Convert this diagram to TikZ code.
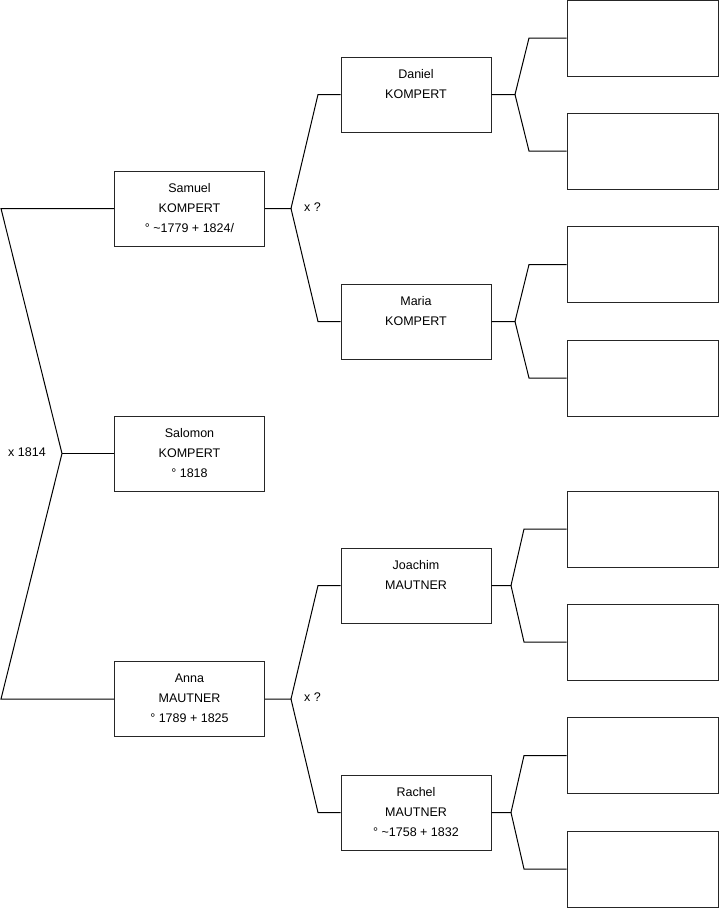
\documentclass[tikz,border=0pt]{standalone}
\usepackage{fontspec}
\setmainfont{Liberation Sans}
\begin{document}
\begin{tikzpicture}[x=1pt,y=-1pt,
  box/.style={draw=black!85,line width=1pt,fill=white,minimum width=150pt,minimum height=75pt,inner sep=0pt},
  emptybox/.style={draw=black!85,line width=1pt,fill=white,minimum width=151pt,minimum height=76pt,inner sep=0pt},
  txt/.style={anchor=north,inner sep=0pt,align=center,font=\fontsize{12.5}{20}\selectfont},
  lbl/.style={anchor=west,inner sep=0pt,font=\fontsize{12.5}{15}\selectfont},
  conn/.style={line width=1pt,black}]
\useasboundingbox (0,0) rectangle (719,908);
% generation 1
\node[box] (samuel) at (189.5,208.5) {};
\node[box] (salomon) at (189.5,453.5) {};
\node[box] (anna) at (189.5,699) {};
% generation 2
\node[box] (daniel) at (416,94.5) {};
\node[box] (maria) at (416,321.5) {};
\node[box] (joachim) at (416,585.5) {};
\node[box] (rachel) at (416,812.5) {};
% generation 3
\node[emptybox] (r1) at (642.5,38) {};
\node[emptybox] (r2) at (642.5,151) {};
\node[emptybox] (r3) at (642.5,264.5) {};
\node[emptybox] (r4) at (642.5,378) {};
\node[emptybox] (r5) at (642.5,529) {};
\node[emptybox] (r6) at (642.5,642) {};
\node[emptybox] (r7) at (642.5,755.5) {};
\node[emptybox] (r8) at (642.5,869) {};
% texts
\node[txt] (samuelT) at ([yshift=-12.5pt]samuel.north) {Samuel\\KOMPERT\\° \textasciitilde1779 + 1824/};
\node[txt] (salomonT) at ([yshift=-12.5pt]salomon.north) {Salomon\\KOMPERT\\° 1818};
\node[txt] (annaT) at ([yshift=-12.5pt]anna.north) {Anna\\MAUTNER\\° 1789 + 1825};
\node[txt] (danielT) at ([yshift=-12.5pt]daniel.north) {Daniel\\KOMPERT};
\node[txt] (mariaT) at ([yshift=-12.5pt]maria.north) {Maria\\KOMPERT};
\node[txt] (joachimT) at ([yshift=-12.5pt]joachim.north) {Joachim\\MAUTNER};
\node[txt] (rachelT) at ([yshift=-12.5pt]rachel.north) {Rachel\\MAUTNER\\° \textasciitilde1758 + 1832};
% coordinates
\coordinate (c1) at (1,208.5);
\coordinate (f1) at (62,453.5);
\coordinate (c2) at (1,699);
\coordinate (fs) at (291,208.5);
\coordinate (fa) at (291,699);
\coordinate (fd) at (515,94.5);
\coordinate (fm) at (515,321.5);
\coordinate (fj) at (511,585.5);
\coordinate (fr) at (511,812.5);
% labels
\node[lbl] (m1) at (8,452) {x 1814};
\node[lbl] (m2) at (304,207) {x ?};
\node[lbl] (m3) at (304,697) {x ?};
% connectors
\draw[conn] (samuel.west) -- (c1) -- (f1) -- (c2) -- (anna.west);
\draw[conn] (f1) -- (salomon.west);
\draw[conn] (samuel.east) -- (fs) -- (318,94.5) -- (daniel.west);
\draw[conn] (fs) -- (318,321.5) -- (maria.west);
\draw[conn] (anna.east) -- (fa) -- (318,585.5) -- (joachim.west);
\draw[conn] (fa) -- (318,812.5) -- (rachel.west);
\draw[conn] (daniel.east) -- (fd) -- (529,38) -- (r1.west);
\draw[conn] (fd) -- (529,151) -- (r2.west);
\draw[conn] (maria.east) -- (fm) -- (529,264.5) -- (r3.west);
\draw[conn] (fm) -- (529,378) -- (r4.west);
\draw[conn] (joachim.east) -- (fj) -- (524,529) -- (r5.west);
\draw[conn] (fj) -- (524,642) -- (r6.west);
\draw[conn] (rachel.east) -- (fr) -- (524,755.5) -- (r7.west);
\draw[conn] (fr) -- (524,869) -- (r8.west);
\end{tikzpicture}
\end{document}
